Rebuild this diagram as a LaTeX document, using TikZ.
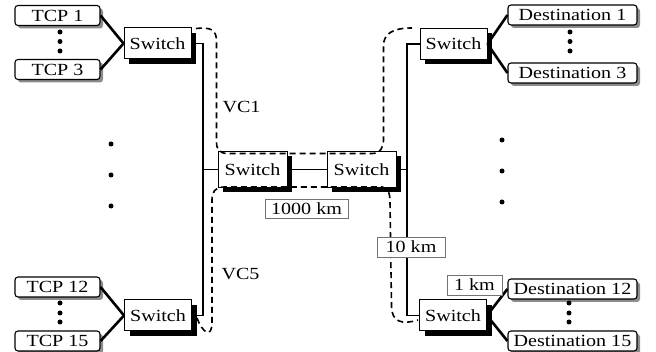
\documentclass[tikz,border=0pt]{standalone}
\usepackage{fontspec}
\setmainfont{Liberation Serif}[FakeStretch=1.18]
\usetikzlibrary{shadows}

\begin{document}
\begin{tikzpicture}[x=1pt, y=-1pt,
  font=\fontsize{17}{20}\selectfont,
  host/.style={draw, line width=1.1pt, rounded corners=3pt, fill=white, inner sep=0pt,
    minimum width=85pt, minimum height=20pt,
    drop shadow={shadow xshift=3pt, shadow yshift=-3pt, fill=black!45, opacity=1}},
  dest/.style={host, minimum width=129pt},
  switchbox/.style={draw, line width=1pt, fill=white, inner sep=0pt,
    minimum width=67pt, minimum height=31pt,
    drop shadow={shadow xshift=5pt, shadow yshift=-5pt, fill=black, opacity=1}},
  core/.style={minimum width=69pt, minimum height=36pt},
  dist/.style={draw=black!55, line width=0.8pt, fill=white, inner sep=0pt, minimum height=19pt},
  link/.style={line width=2.6pt},
  bus/.style={line width=1.6pt},
  vc/.style={line width=1.6pt, dash pattern=on 6pt off 4pt},
  dot/.style={circle, fill, inner sep=0pt, minimum size=5pt},
]
  \useasboundingbox (0,0) rectangle (656,352);

  % end hosts
  \node[host] (tcp1) at (57.5,15.5) {TCP 1};
  \node[host] (tcp3) at (57.5,69.5) {TCP 3};
  \node[host] (tcp12) at (57.5,287) {TCP 12};
  \node[host] (tcp15) at (57.5,341) {TCP 15};
  \node[dest] (dst1) at (572.5,15) {Destination 1};
  \node[dest] (dst3) at (572.5,73) {Destination 3};
  \node[dest] (dst12) at (572.5,289) {Destination 12};
  \node[dest] (dst15) at (572.5,341) {Destination 15};

  % switches
  \node[switchbox] (swA) at (157.5,43.5) {Switch};
  \node[switchbox] (swB) at (158,315.5) {Switch};
  \node[switchbox, core] (swC) at (252.5,169.5) {Switch};
  \node[switchbox, core] (swD) at (361.5,169.5) {Switch};
  \node[switchbox] (swE) at (453.5,44) {Switch};
  \node[switchbox] (swF) at (453,315.5) {Switch};

  % ellipsis dots
  \foreach \y [count=\i] in {32,41.5,51} {
    \node[dot] (tl\i) at (60,\y) {};
    \node[dot] (tr\i) at (570,\y) {};
  }
  \foreach \y [count=\i] in {303,313,322} {
    \node[dot] (bl\i) at (60,\y) {};
    \node[dot] (br\i) at (569,\y) {};
  }
  \foreach \y [count=\i] in {144,175,206} {
    \node[dot] (ml\i) at (111,\y) {};
    \node[dot] (mr\i) at (502,\y-4) {};
  }

  % access links
  \draw[link] (tcp1.east) -- (swA.west);
  \draw[link] (tcp3.east) -- (swA.west);
  \draw[link] (tcp12.east) -- (swB.west);
  \draw[link] (tcp15.east) -- (swB.west);
  \draw[link] (swE.east) -- (dst1.west);
  \draw[link] (swE.east) -- (dst3.west);
  \draw[link] (swF.east) -- (dst12.west);
  \draw[link] (swF.east) -- (dst15.west);

  % trunks
  \coordinate (lbusT) at (203,43.5);
  \coordinate (lbusB) at (203,315.5);
  \coordinate (lbusM) at (203,169.5);
  \coordinate (rbusT) at (407,44);
  \coordinate (rbusB) at (407,315.5);
  \coordinate (rbusM) at (407,169.5);
  \draw[bus] (swA.east) -- (lbusT) -- (lbusB) -- (swB.east);
  \draw[bus] (lbusM) -- (swC.west);
  \draw[bus] (swC.east) -- (swD.west);
  \draw[bus] (swE.west) -- (rbusT) -- (rbusB) -- (swF.west);
  \draw[bus] (swD.east) -- (rbusM);

  % virtual circuits
  \draw[vc] (196,28.5) .. controls (212,27) and (216.5,30) .. (216.5,42)
    -- (216.5,142) .. controls (216.5,150) and (220,153.5) .. (228,153.5)
    -- (372,153.5) .. controls (380,153.5) and (383.5,148) .. (383.5,140)
    -- (383.5,46) .. controls (383.5,34) and (392,28) .. (412,28);
  \draw[vc] (197,318) .. controls (202,332) and (212,340) .. (212,322)
    -- (212,200) .. controls (212,192) and (215,187) .. (224,187)
    -- (382,187) .. controls (388,187.5) and (390,193) .. (390,202)
    -- (391.5,306) .. controls (391.5,322) and (402,325) .. (418,320);
  \node[anchor=west] (vc1) at (219,107) {VC1};
  \node[anchor=west] (vc5) at (218,274) {VC5};

  % distances
  \node[dist, minimum width=83pt] (d1000) at (306.5,209) {1000 km};
  \node[dist, minimum width=68pt, minimum height=20pt] (d10) at (411,247) {10 km};
  \node[dist, minimum width=55pt, minimum height=20pt] (d1) at (474.5,285) {1 km};
\end{tikzpicture}
\end{document}
